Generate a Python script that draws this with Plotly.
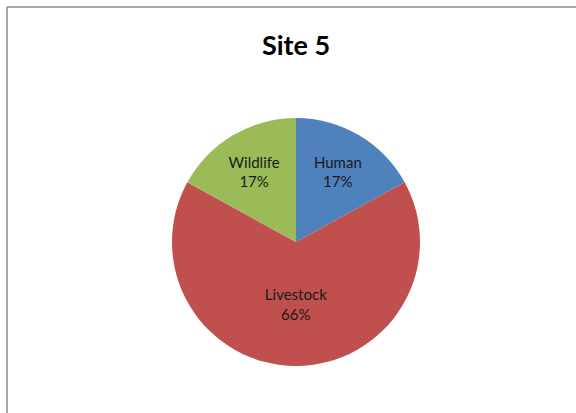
import plotly.graph_objects as go

categories = ["Human", "Livestock", "Wildlife"]
values = [17, 66, 17]
colors = ["#4F81BD", "#C0504D", "#9BBB59"]
title_text = "Site 5"

W, H = 576, 413

fig = go.Figure(
    go.Pie(
        labels=categories,
        values=values,
        marker=dict(colors=colors, line=dict(width=0)),
        sort=False,
        direction="clockwise",
        rotation=0,
        texttemplate="%{label}<br>%{percent:.0%}",
        textposition="inside",
        insidetextorientation="horizontal",
        textfont=dict(family="Lato", size=15, color="#1a1a1a"),
        domain=dict(x=[172 / W, 420 / W], y=[1 - 366 / H, 1 - 118 / H]),
        showlegend=False,
        hoverinfo="label+percent",
    )
)

fig.update_layout(
    width=W,
    height=H,
    margin=dict(l=0, r=0, t=0, b=0),
    paper_bgcolor="white",
    plot_bgcolor="white",
    title=dict(
        text="<b>" + title_text + "</b>",
        x=296 / W,
        xanchor="center",
        y=1 - 46 / H,
        yanchor="middle",
        font=dict(family="Lato", size=27, color="#000000"),
    ),
    shapes=[
        dict(type="line", xref="paper", yref="paper",
             x0=7 / W, x1=1, y0=1 - 7 / H, y1=1 - 7 / H,
             line=dict(color="#8a8a8a", width=1.5)),
        dict(type="line", xref="paper", yref="paper",
             x0=7 / W, x1=7 / W, y0=0, y1=1 - 7 / H,
             line=dict(color="#8a8a8a", width=1.5)),
    ],
)

fig.write_html(
    "out.html",
    config={"displayModeBar": False},
    post_script="document.body.style.margin='0';document.body.style.overflow='hidden';",
)
